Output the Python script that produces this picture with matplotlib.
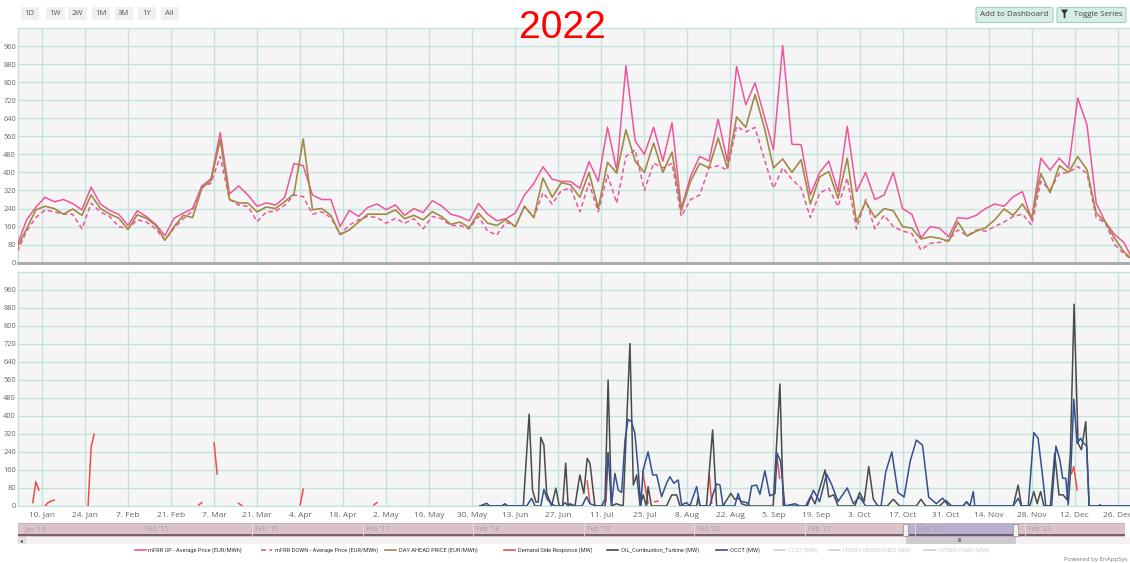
import numpy as np
import pandas as pd
import matplotlib
matplotlib.use('Agg')
import matplotlib.pyplot as plt
import matplotlib.dates as mdates
from matplotlib.patches import Rectangle, FancyBboxPatch, Polygon
from matplotlib.lines import Line2D

'''
2022 balancing prices and MW activations, EnAppSys style two-panel chart
'''

W, H = 1130, 563
START = pd.Timestamp('2022-01-01')

# ---- price series (EUR/MWh), read every 3 days starting 2 Jan ----
price_days = np.arange(1, 365, 3)
mfrr_up = [80, 190, 246, 290, 270, 280, 262, 234, 335, 260,
           232, 214, 165, 230, 204, 170, 120, 197, 220, 240,
           340, 372, 577, 305, 340, 300, 250, 265, 255, 290,
           440, 430, 300, 280, 280, 160, 232, 205, 245, 260,
           235, 256, 210, 240, 222, 275, 252, 215, 204, 185,
           262, 215, 186, 195, 220, 300, 350, 425, 370, 360,
           360, 330, 448, 360, 600, 410, 873, 540, 480, 600,
           450, 620, 240, 382, 471, 450, 636, 450, 870, 700,
           797, 650, 500, 962, 525, 523, 300, 400, 450, 315,
           604, 315, 400, 280, 300, 400, 240, 215, 110, 160,
           153, 115, 200, 195, 210, 240, 260, 250, 292, 315,
           190, 463, 410, 463, 419, 730, 611, 264, 180, 125,
           90, 10]
day_ahead = [70, 150, 234, 250, 240, 215, 238, 210, 300, 240,
             216, 197, 148, 212, 197, 165, 100, 160, 210, 200,
             330, 365, 545, 280, 265, 264, 225, 247, 240, 271,
             305, 548, 235, 240, 210, 125, 145, 180, 215, 215,
             215, 234, 195, 210, 190, 226, 205, 170, 180, 155,
             220, 175, 165, 192, 160, 250, 200, 375, 290, 355,
             345, 290, 400, 240, 445, 397, 589, 450, 400, 530,
             400, 490, 230, 360, 440, 420, 552, 420, 646, 600,
             745, 600, 420, 460, 400, 456, 260, 380, 404, 285,
             463, 180, 270, 200, 240, 230, 160, 153, 105, 115,
             108, 95, 180, 118, 140, 155, 190, 238, 210, 260,
             197, 395, 310, 430, 400, 470, 412, 220, 180, 108,
             49, 10]
mfrr_down = [50, 140, 200, 234, 225, 215, 215, 150, 264, 225,
             205, 160, 150, 190, 180, 150, 100, 153, 195, 230,
             337, 352, 471, 280, 255, 250, 182, 225, 228, 255,
             300, 293, 215, 225, 200, 125, 167, 190, 205, 200,
             175, 197, 175, 195, 150, 205, 195, 165, 165, 150,
             205, 140, 123, 180, 160, 250, 200, 310, 260, 320,
             330, 226, 352, 226, 389, 264, 471, 500, 320, 441,
             420, 440, 205, 280, 300, 420, 430, 410, 604, 580,
             600, 460, 330, 420, 370, 330, 200, 308, 330, 249,
             375, 150, 280, 150, 210, 160, 140, 130, 56, 86,
             90, 101, 145, 120, 145, 140, 160, 180, 205, 215,
             167, 360, 323, 395, 400, 426, 395, 200, 175, 80,
             40, 10]

# ---- MW series, vertices (day of year, MW); nan = no data ----
nan = np.nan
dsr_days = [6, 7, 8, 9, 10, 11, 12, 13, 14, 24, 25, 26, 27, 60, 61, 62, 65, 66, 67,
            73, 74, 75, 93, 94, 95, 117, 118, 119, 186.4, 187.3, 188, 192.5, 193.2, 194,
            204.4, 206.2, 207, 208.4, 209.4, 210, 226.1, 226.9, 227.5, 248, 249, 250,
            344, 344.7, 345.8, 346.5]
dsr_vals = [15, 108, 71, nan, 0, 15, 22, 27, nan, 0, 263, 320, nan, 5, 15, nan, 280, 142, nan,
            12, 2, nan, 5, 75, nan, 5, 15, nan, 111, 12, nan, 20, 234, nan,
            152, 13, nan, 19, 22, nan, 142, 13, nan, 234, 123, nan,
            145, 175, 71, nan]

oil_days = [151.5, 153.7, 154.7, 158.6, 159.6, 160.6, 165.6, 167.5, 168.6, 169.7, 170.5,
            171.3, 172.3, 173.2, 174, 174.8, 176.2, 177.3, 178.4, 179.4, 180.2, 180.8,
            182.4, 184, 185.3, 186.4, 187.3, 188.9, 191.1, 192.2, 193.2, 194.3, 195.9,
            198.1, 200.3, 201.4, 202.5, 203.6, 204.6, 205.7, 206.2, 207.3, 212.2, 213.9,
            215.5, 216.6, 222, 222.5, 223.1, 225.2, 227.2, 228.5, 230.6, 233.1, 234.4,
            235.5, 236.6, 238.3, 239.3, 246.9, 249.1, 250.2, 257.5, 259.2, 260.5, 262.1,
            263.8, 265, 266.6, 268, 273.5, 275, 276.5, 278, 279.5, 281, 284, 286,
            288, 290, 293.5, 295, 296.5, 301, 303, 305, 308.7, 309.8, 310.9,
            325, 326.6, 327.7, 330.4, 331.7, 332.8, 333.9, 335, 337.1, 338.5, 339.9,
            341.2, 342.5, 343.6, 344.8, 346.1, 347.2, 348.6, 349.7, 352.5, 353.2,
            353.8, 364]
oil_vals = [0, 12, 0, 0, 10, 0, 0, 408, 71, 18, 18,
            305, 271, 56, 30, 0, 79, 0, 0, 190, 0, 10,
            0, 138, 56, 212, 190, 0, 0, 30, 560, 0, 10,
            0, 722, 93, 138, 0, 49, 0, 86, 0, 0, 49,
            49, 0, 0, 40, 0, 0, 338, 0, 0, 56, 30,
            35, 20, 15, 0, 0, 542, 0, 0, 45, 10, 80,
            160, 40, 50, 0, 0, 60, 20, 175, 30, 0, 0, 30,
            0, 0, 0, 30, 0, 0, 25, 0, 0, 19, 0,
            0, 93, 0, 0, 64, 10, 64, 0, 0, 234, 49,
            50, 28, 234, 897, 278, 250, 375, 0, 0, 5,
            0, 0]

occt_days = [151.5, 166.7, 168.3, 169.4, 171.3, 172.3, 173.4, 174.8, 175.9, 178.2, 179.2,
             180.2, 184.7, 186.2, 187.3, 189.5, 192.2, 193.2, 194.3, 195.4, 196.5, 197.6,
             198.7, 199.7, 200.8, 201.9, 203, 203.8, 204.6, 206.2, 207.7, 209, 210.6,
             212.2, 213.3, 214.6, 216, 217.1, 218.7, 219.8, 222, 223.1, 226.3, 227.4,
             228.5, 229.6, 230.6, 234.4, 235.5, 236.6, 238.8, 239.9, 241.5, 242.6, 244.2,
             245.8, 247.5, 248.2, 249.3, 250.7, 254, 255.6, 258, 260, 262, 264.3, 266,
             268, 271, 273, 275, 277, 282, 283.5, 285.5, 287.5, 289.5, 291.5, 293.5,
             295.5, 297.5, 300, 302, 304, 308.7, 309.8, 310.9, 312, 312.5, 325, 326.6,
             327.7, 329.9, 331.7, 333.1, 334.7, 335.6, 337.5, 338.9, 340.2, 341.1, 342.1,
             342.9, 343.8, 344.7, 345.8, 346.9, 347.8, 348.9, 349.7, 364]
occt_vals = [0, 0, 34, 0, 0, 74, 30, 10, 0, 0, 15,
             0, 0, 41, 10, 0, 0, 237, 0, 145, 71, 60,
             293, 385, 375, 323, 160, 0, 160, 241, 138, 138, 41,
             101, 130, 101, 116, 5, 15, 0, 86, 0, 0, 56,
             98, 93, 0, 0, 56, 10, 0, 89, 93, 52, 157,
             45, 56, 234, 200, 0, 10, 0, 0, 70, 20, 142, 93,
             20, 80, 10, 40, 0, 0, 150, 240, 60, 40, 200, 293,
             270, 40, 10, 35, 0, 0, 19, 0, 64, 0, 0, 34,
             0, 0, 326, 301, 116, 0, 0, 266, 204, 123, 123,
             5, 175, 474, 278, 301, 280, 266, 0, 0]

y_ticks = np.arange(0, 1000, 80)
x_ticks = pd.date_range('2022-01-10', '2022-12-26', freq='14D')

legend_labels = ['mFRR UP - Average Price (EUR/MWh)', 'mFRR DOWN - Average Price (EUR/MWh)',
                 'DAY AHEAD PRICE (EUR/MWh)', 'Demand Side Responce (MW)',
                 'OIL_Combustion_Turbine (MW)', 'OCCT (MW)', 'CCGT (MW)',
                 'HYDRO RESERVOIRS (MW)', 'HYDRO PUMP (MW)']
legend_colors = ['#f0559c', '#f0559c', '#a28a45', '#f24b4b', '#4a4a4a', '#34508f',
                 '#d0d0d0', '#d0d0d0', '#d0d0d0']
legend_dash = ['-', (0, (3, 2)), '-', '-', '-', '-', '-', '-', '-']
legend_x = [134.5, 261, 385, 504, 607, 716, 774, 829, 924]

range_buttons = ['1D', '1W', '2W', '1M', '3M', '1Y', 'All']
range_x = [20.5, 46, 68, 91.5, 114.5, 137.5, 160.5]
nav_years = [2015, 2016, 2017, 2018, 2019, 2020, 2021, 2022, 2023]

GRID = '#c3e3da'
BG = '#f5f5f5'
UI = 'Open Sans'


def todate(days):
    return START + pd.to_timedelta(np.asarray(days, dtype=float), unit='D')


def fx(x):
    return x / W


def fy(y):
    return 1 - y / H


fig = plt.figure(figsize=(W / 100, H / 100), dpi=100)
fig.patch.set_facecolor('white')

ax1 = fig.add_axes([fx(18), fy(262.7), 1 - fx(18), (262.7 - 28) / H])
ax2 = fig.add_axes([fx(18), fy(506), 1 - fx(18), (506 - 272) / H], sharex=ax1)

for ax in (ax1, ax2):
    ax.set_facecolor(BG)
    ax.set_ylim(0, 1040)
    ax.set_yticks(y_ticks)
    ax.set_yticklabels([str(v) for v in y_ticks], fontsize=5.3, color='#666666', family=UI)
    ax.set_xticks(x_ticks)
    ax.grid(True, color=GRID, lw=1)
    ax.set_axisbelow(True)
    ax.tick_params(axis='both', length=0)
    ax.tick_params(axis='y', pad=1.5)
    for s in ('top', 'left'):
        ax.spines[s].set_color(GRID)
        ax.spines[s].set_linewidth(1)
    ax.spines['right'].set_visible(False)

ax1.set_xlim(todate(1.2), todate(363))
ax1.spines['bottom'].set_color('#a8a8a8')
ax1.spines['bottom'].set_linewidth(2)
ax2.spines['bottom'].set_color(GRID)
plt.setp(ax1.get_xticklabels(), visible=False)
ax2.set_xticklabels([f'{d.day}. {d.strftime("%b")}' for d in x_ticks],
                    fontsize=6, color='#666666', family=UI)
ax2.tick_params(axis='x', pad=4)

# price panel
pdates = todate(price_days)
ax1.plot(pdates, mfrr_up, color='#f0559c', lw=1.1, zorder=3)
ax1.plot(pdates, mfrr_down, color='#f0559c', lw=1.1, ls=(0, (3, 2)), zorder=3)
ax1.plot(pdates, day_ahead, color='#a28a45', lw=1.2, zorder=4)

# MW panel
ax2.plot(todate(dsr_days), dsr_vals, color='#f24b4b', lw=1.1, zorder=3)
ax2.plot(todate(oil_days), oil_vals, color='#4a4a4a', lw=1.1, zorder=4)
ax2.plot(todate(occt_days), occt_vals, color='#34508f', lw=1.1, zorder=5)

# title
fig.text(fx(562), fy(28), '2022', color='#ff0000', fontsize=28, family='Liberation Sans',
         ha='center', va='center', zorder=10)

# range selector buttons
for lab, x in zip(range_buttons, range_x):
    fig.patches.append(Rectangle((fx(x), fy(20)), fx(18.5), 13 / H, transform=fig.transFigure,
                                 facecolor='#f0f0f0', edgecolor='none'))
    fig.text(fx(x + 9.25), fy(13.5), lab, fontsize=5.5, color='#555555', family=UI,
             ha='center', va='center')

# top right buttons
for x0, x1, lab in [(976, 1053, 'Add to Dashboard'), (1057, 1126, '      Toggle Series')]:
    fig.patches.append(FancyBboxPatch((fx(x0), fy(22.5)), fx(x1 - x0), 15 / H,
                                      boxstyle='round,pad=0,rounding_size=0.002',
                                      transform=fig.transFigure, facecolor='#d6eee7',
                                      edgecolor='#9fd2c3', lw=0.8))
    fig.text(fx((x0 + x1) / 2), fy(15), lab, fontsize=5.8, color='#444444', family=UI,
             ha='center', va='center')
funnel = [(1061, 9.5), (1068, 9.5), (1065.4, 13.5), (1065.4, 18.5), (1063.6, 17.5), (1063.6, 13.5)]
fig.patches.append(Polygon([(fx(a), fy(b)) for a, b in funnel], closed=True,
                           transform=fig.transFigure, facecolor='#333333', edgecolor='none'))

# navigator
nav = fig.add_axes([fx(18), fy(537), fx(1125 - 18), 14 / H])
feb15 = pd.Timestamp('2015-02-01')
px_year = 110.4
nav.set_xlim(feb15 - pd.Timedelta(days=(142 - 18) / px_year * 365.25),
             feb15 + pd.Timedelta(days=(1125 - 142) / px_year * 365.25))
nav.set_ylim(0, 1)
nav.axis('off')
nav.axvspan(nav.get_xlim()[0], nav.get_xlim()[1], color='#dcc3c9', lw=0)
nav.axvspan(pd.Timestamp('2022-01-01'), pd.Timestamp('2022-12-31'), color='#b9b0cd', lw=0)
nav.axhline(0.15, color='#6d4a5e', lw=1.2)
nav.axhline(0.99, color='#c9aab2', lw=0.6)
nav.text(0.006, 0.55, "Jan '15", transform=nav.transAxes, fontsize=5, color='#a89ca0',
         family=UI, va='center')
for yr in nav_years:
    t = pd.Timestamp(f'{yr}-02-01')
    if yr > 2015:
        nav.axvline(t, color='#e6d6da', lw=0.6)
    nav.text(t + pd.Timedelta(days=10), 0.55, f"Feb '{yr % 100:02d}", fontsize=5,
             color='#a89ca0', family=UI, va='center')
for t in (pd.Timestamp('2022-01-01'), pd.Timestamp('2022-12-31')):
    nav.add_patch(Rectangle((mdates.date2num(t) - 9, 0.08), 18, 0.84, facecolor='#f2f2f2',
                            edgecolor='#999999', lw=0.6, zorder=5))

# scrollbar
sb = fig.add_axes([fx(18), fy(544), 1 - fx(18), 7 / H])
x0n, x1n = nav.get_xlim()
sb.set_xlim(x0n, x0n + (x1n - x0n) * 1112 / 1107)
sb.set_ylim(0, 1)
sb.axis('off')
sb.axvspan(sb.get_xlim()[0], sb.get_xlim()[1], color='#f2f2f2', lw=0)
sb.axvspan(pd.Timestamp('2022-01-01'), pd.Timestamp('2022-12-31'), color='#cccccc', lw=0)
sb.text(pd.Timestamp('2022-07-01'), 0.5, 'III', fontsize=3.5, color='#333333', ha='center',
        va='center', family='DejaVu Sans')
sb.add_patch(Rectangle((0, 0), 7 / 1112, 1, transform=sb.transAxes, facecolor='#e6e6e6',
                       edgecolor='#cccccc', lw=0.5))
sb.text(3.5 / 1112, 0.5, '\u25c2', transform=sb.transAxes, fontsize=4, color='#333333',
        ha='center', va='center', family='DejaVu Sans')

# legend
for lab, col, ls, x in zip(legend_labels, legend_colors, legend_dash, legend_x):
    fig.lines.append(Line2D([fx(x), fx(x + 11)], [fy(550), fy(550)], transform=fig.transFigure,
                            color=col, lw=1.2, ls=ls))
    tcol = '#cccccc' if col == '#d0d0d0' else '#333333'
    fig.text(fx(x + 14), fy(550), lab, fontsize=4.1, color=tcol, family='Roboto', va='center')

fig.text(fx(1127), fy(559), 'Powered by EnAppSys', fontsize=4.4, color='#777777', family=UI,
         ha='right', va='center')

plt.savefig('out.png', dpi=100)
